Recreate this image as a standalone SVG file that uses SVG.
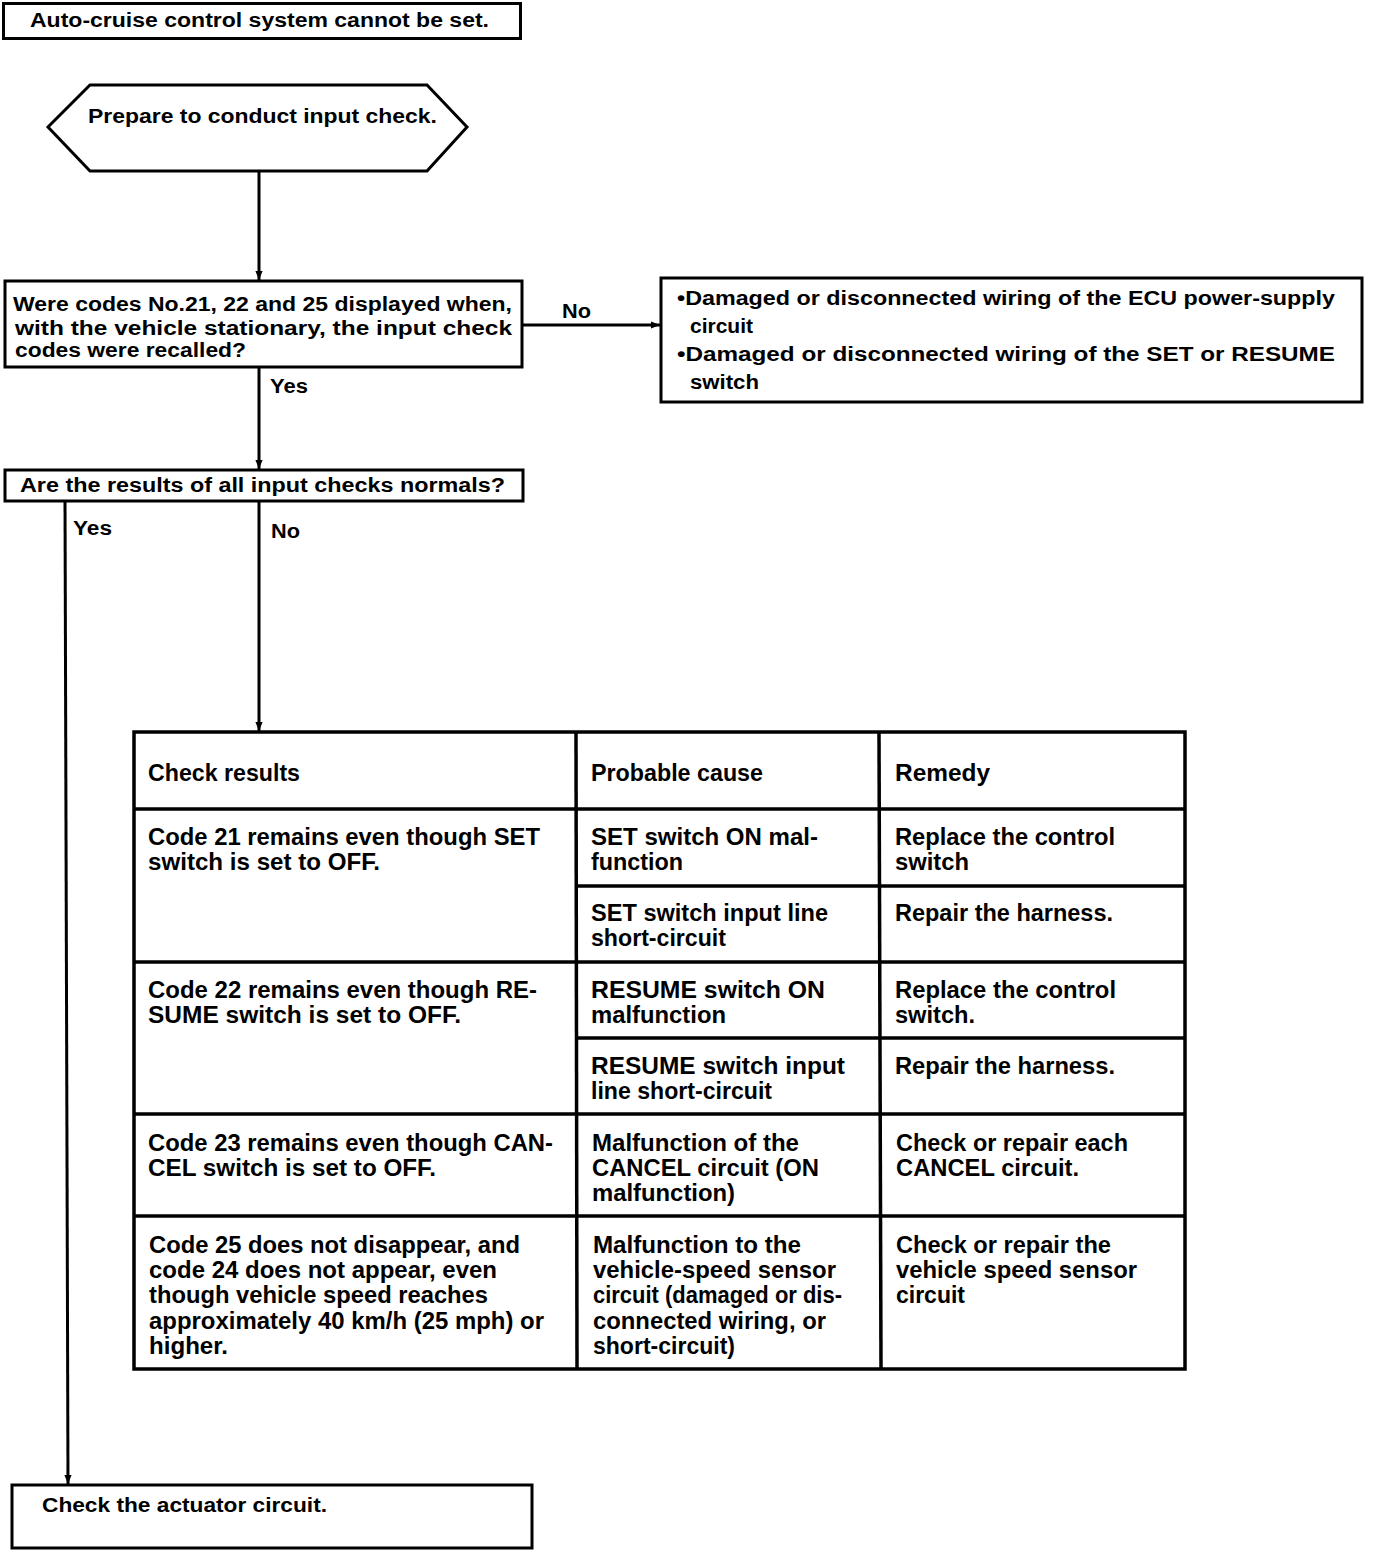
<svg xmlns="http://www.w3.org/2000/svg" width="1376" height="1550" viewBox="0 0 1376 1550">
<style>
.box{fill:#fff;stroke:#000;stroke-width:3}
.ln{fill:none;stroke:#000;stroke-width:3}
.tl{fill:none;stroke:#000;stroke-width:3.5}
.f{font-family:"Liberation Sans",Arial,sans-serif;font-size:20px;font-weight:bold;fill:#000}
.t{font-family:"Liberation Sans",Arial,sans-serif;font-size:23px;font-weight:bold;fill:#000}
</style>
<defs>
<marker id="ar" viewBox="0 0 10 10" refX="10" refY="5" markerWidth="9" markerHeight="9" markerUnits="userSpaceOnUse" orient="auto">
<path d="M0,1 L10,5 L0,9 Z" fill="#000"/>
</marker>
</defs>
<rect width="1376" height="1550" fill="#fff"/>
<g id="connectors">
<line class="ln" x1="259" y1="172" x2="259" y2="280" marker-end="url(#ar)"/>
<line class="ln" x1="522" y1="325" x2="660" y2="325" marker-end="url(#ar)"/>
<line class="ln" x1="259" y1="367" x2="259" y2="469" marker-end="url(#ar)"/>
<line class="ln" x1="259" y1="501" x2="259" y2="731" marker-end="url(#ar)"/>
<line class="ln" x1="65" y1="501" x2="68" y2="1484" marker-end="url(#ar)"/>
<text class="f" x="562" y="318" textLength="29" lengthAdjust="spacingAndGlyphs">No</text>
<text class="f" x="270" y="393" textLength="38" lengthAdjust="spacingAndGlyphs">Yes</text>
<text class="f" x="73" y="535" textLength="39" lengthAdjust="spacingAndGlyphs">Yes</text>
<text class="f" x="271" y="538" textLength="29" lengthAdjust="spacingAndGlyphs">No</text>
</g>
<g id="n-title">
<rect class="box" x="3.5" y="3.5" width="517" height="35"/>
<text class="f" x="30" y="27" textLength="459" lengthAdjust="spacingAndGlyphs">Auto-cruise control system cannot be set.</text>
</g>
<g id="n-prepare">
<polygon class="box" points="90,85 427,85 467,127 427,171 90,171 48,127"/>
<text class="f" x="88" y="123" textLength="349" lengthAdjust="spacingAndGlyphs">Prepare to conduct input check.</text>
</g>
<g id="n-codes">
<rect class="box" x="5" y="281" width="517" height="86"/>
<text class="f" x="13" y="311" textLength="499" lengthAdjust="spacingAndGlyphs">Were codes No.21, 22 and 25 displayed when,</text>
<text class="f" x="15" y="335" textLength="497" lengthAdjust="spacingAndGlyphs">with the vehicle stationary, the input check</text>
<text class="f" x="15" y="357" textLength="231" lengthAdjust="spacingAndGlyphs">codes were recalled?</text>
</g>
<g id="n-damaged">
<rect class="box" x="661" y="278" width="701" height="124"/>
<text class="f" x="677" y="305" textLength="658" lengthAdjust="spacingAndGlyphs">•Damaged or disconnected wiring of the ECU power-supply</text>
<text class="f" x="690" y="333" textLength="63" lengthAdjust="spacingAndGlyphs">circuit</text>
<text class="f" x="677" y="361" textLength="658" lengthAdjust="spacingAndGlyphs">•Damaged or disconnected wiring of the SET or RESUME</text>
<text class="f" x="690" y="389" textLength="69" lengthAdjust="spacingAndGlyphs">switch</text>
</g>
<g id="n-results">
<rect class="box" x="5" y="470" width="518" height="31"/>
<text class="f" x="20" y="492" textLength="485" lengthAdjust="spacingAndGlyphs">Are the results of all input checks normals?</text>
</g>
<g id="n-table">
<rect class="tl" x="134" y="732" width="1051" height="637" fill="#fff"/>
<line class="tl" x1="576" y1="732" x2="577" y2="1369"/>
<line class="tl" x1="879" y1="732" x2="881" y2="1369"/>
<line class="tl" x1="134" y1="809" x2="1185" y2="809"/>
<line class="tl" x1="577" y1="886" x2="1185" y2="886"/>
<line class="tl" x1="134" y1="962" x2="1185" y2="962"/>
<line class="tl" x1="577" y1="1038" x2="1185" y2="1038"/>
<line class="tl" x1="134" y1="1114" x2="1185" y2="1114"/>
<line class="tl" x1="134" y1="1216" x2="1185" y2="1216"/>
<text class="t" x="148" y="781" textLength="152" lengthAdjust="spacingAndGlyphs">Check results</text>
<text class="t" x="591" y="781" textLength="172" lengthAdjust="spacingAndGlyphs">Probable cause</text>
<text class="t" x="895" y="781" textLength="95" lengthAdjust="spacingAndGlyphs">Remedy</text>
<text class="t" x="148" y="845" textLength="392" lengthAdjust="spacingAndGlyphs">Code 21 remains even though SET</text>
<text class="t" x="148" y="870" textLength="232" lengthAdjust="spacingAndGlyphs">switch is set to OFF.</text>
<text class="t" x="591" y="845" textLength="227" lengthAdjust="spacingAndGlyphs">SET switch ON mal-</text>
<text class="t" x="591" y="870" textLength="92" lengthAdjust="spacingAndGlyphs">function</text>
<text class="t" x="895" y="845" textLength="220" lengthAdjust="spacingAndGlyphs">Replace the control</text>
<text class="t" x="895" y="870" textLength="74" lengthAdjust="spacingAndGlyphs">switch</text>
<text class="t" x="591" y="921" textLength="237" lengthAdjust="spacingAndGlyphs">SET switch input line</text>
<text class="t" x="591" y="946" textLength="135" lengthAdjust="spacingAndGlyphs">short-circuit</text>
<text class="t" x="895" y="921" textLength="218" lengthAdjust="spacingAndGlyphs">Repair the harness.</text>
<text class="t" x="148" y="998" textLength="389" lengthAdjust="spacingAndGlyphs">Code 22 remains even though RE-</text>
<text class="t" x="148" y="1023" textLength="313" lengthAdjust="spacingAndGlyphs">SUME switch is set to OFF.</text>
<text class="t" x="591" y="998" textLength="234" lengthAdjust="spacingAndGlyphs">RESUME switch ON</text>
<text class="t" x="591" y="1023" textLength="135" lengthAdjust="spacingAndGlyphs">malfunction</text>
<text class="t" x="895" y="998" textLength="221" lengthAdjust="spacingAndGlyphs">Replace the control</text>
<text class="t" x="895" y="1023" textLength="80" lengthAdjust="spacingAndGlyphs">switch.</text>
<text class="t" x="591" y="1074" textLength="254" lengthAdjust="spacingAndGlyphs">RESUME switch input</text>
<text class="t" x="591" y="1099" textLength="181" lengthAdjust="spacingAndGlyphs">line short-circuit</text>
<text class="t" x="895" y="1074" textLength="220" lengthAdjust="spacingAndGlyphs">Repair the harness.</text>
<text class="t" x="148" y="1151" textLength="405" lengthAdjust="spacingAndGlyphs">Code 23 remains even though CAN-</text>
<text class="t" x="148" y="1176" textLength="288" lengthAdjust="spacingAndGlyphs">CEL switch is set to OFF.</text>
<text class="t" x="592" y="1151" textLength="207" lengthAdjust="spacingAndGlyphs">Malfunction of the</text>
<text class="t" x="592" y="1176" textLength="227" lengthAdjust="spacingAndGlyphs">CANCEL circuit (ON</text>
<text class="t" x="592" y="1201" textLength="143" lengthAdjust="spacingAndGlyphs">malfunction)</text>
<text class="t" x="896" y="1151" textLength="232" lengthAdjust="spacingAndGlyphs">Check or repair each</text>
<text class="t" x="896" y="1176" textLength="183" lengthAdjust="spacingAndGlyphs">CANCEL circuit.</text>
<text class="t" x="149" y="1253" textLength="371" lengthAdjust="spacingAndGlyphs">Code 25 does not disappear, and</text>
<text class="t" x="149" y="1278" textLength="348" lengthAdjust="spacingAndGlyphs">code 24 does not appear, even</text>
<text class="t" x="149" y="1303" textLength="339" lengthAdjust="spacingAndGlyphs">though vehicle speed reaches</text>
<text class="t" x="149" y="1329" textLength="395" lengthAdjust="spacingAndGlyphs">approximately 40 km/h (25 mph) or</text>
<text class="t" x="149" y="1354" textLength="79" lengthAdjust="spacingAndGlyphs">higher.</text>
<text class="t" x="593" y="1253" textLength="208" lengthAdjust="spacingAndGlyphs">Malfunction to the</text>
<text class="t" x="593" y="1278" textLength="243" lengthAdjust="spacingAndGlyphs">vehicle-speed sensor</text>
<text class="t" x="593" y="1303" textLength="249" lengthAdjust="spacingAndGlyphs">circuit (damaged or dis-</text>
<text class="t" x="593" y="1329" textLength="233" lengthAdjust="spacingAndGlyphs">connected wiring, or</text>
<text class="t" x="593" y="1354" textLength="142" lengthAdjust="spacingAndGlyphs">short-circuit)</text>
<text class="t" x="896" y="1253" textLength="215" lengthAdjust="spacingAndGlyphs">Check or repair the</text>
<text class="t" x="896" y="1278" textLength="241" lengthAdjust="spacingAndGlyphs">vehicle speed sensor</text>
<text class="t" x="896" y="1303" textLength="69" lengthAdjust="spacingAndGlyphs">circuit</text>
</g>
<g id="n-actuator">
<rect class="box" x="12" y="1485" width="520" height="63"/>
<text class="f" x="42" y="1512" textLength="285" lengthAdjust="spacingAndGlyphs">Check the actuator circuit.</text>
</g>
</svg>
